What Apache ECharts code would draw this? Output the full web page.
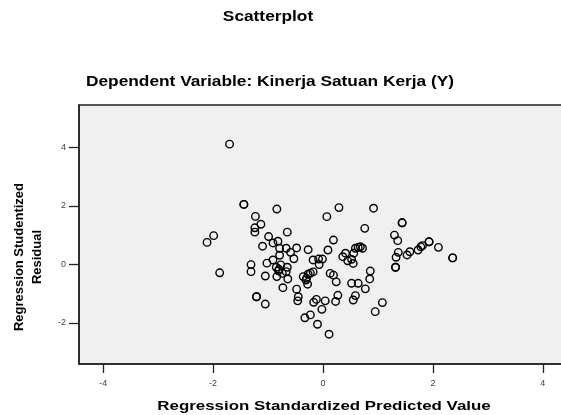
<!DOCTYPE html>
<html>
<head>
<meta charset="utf-8">
<script src="https://cdn.jsdelivr.net/npm/echarts@6/dist/echarts.min.js"></script>
<style>
  html, body { margin: 0; padding: 0; background: #fff; }
  #chart { width: 561px; height: 415px; }
</style>
</head>
<body>
<div id="chart"></div>
<script>
// Regression Standardized Predicted Value (x) and Regression Studentized Residual (y)
const predicted = [
  -1.70, -1.44, -1.44, -0.84, -1.23, -1.13, -1.24, -1.24, -0.65, 0.07,
  0.29, 0.92, 1.44, 1.44, 0.76, -1.99, -2.11, -1.88, -0.99, -1.10,
  -0.91, -0.82, -0.79, -0.67, -0.59, -0.48, -0.53, -0.27, 0.19, 0.09,
  -0.18, -0.08, -0.01, -0.07, -1.31, -1.31, -1.05, -0.91, -1.02, -0.79,
  -0.85, -0.77, -0.81, -0.65, -0.67, -0.84, -0.74, -0.64, -0.73, -0.48,
  -0.36, -0.31, -0.27, -0.18, -0.28, 0.13, 0.19, 0.24, -1.21, -1.21,
  -0.45, -0.46, -1.05, -0.12, -0.17, 0.04, -0.02, -0.33, -0.23, -0.10,
  0.11, 1.30, 1.36, 0.36, 0.41, 0.45, 0.52, 0.55, 0.56, 0.59,
  0.64, 0.68, 0.72, 0.86, 0.85, 0.77, 0.52, 0.64, 0.59, 0.55,
  0.27, 0.23, 1.08, 0.95, 1.33, 1.37, 1.32, 1.32, 1.53, 1.58,
  1.73, 1.78, 1.81, 1.93, 1.93, 2.10, 2.36, 2.36, -0.23, -0.30,
  -0.80
];
const residual = [
  4.11, 2.05, 2.05, 1.89, 1.64, 1.37, 1.25, 1.10, 1.10, 1.63,
  1.94, 1.92, 1.42, 1.42, 1.23, 0.98, 0.75, -0.29, 0.95, 0.62,
  0.73, 0.79, 0.55, 0.55, 0.41, 0.56, 0.19, 0.50, 0.83, 0.49,
  0.15, 0.18, 0.18, -0.01, -0.01, -0.25, -0.40, 0.15, 0.04, 0.31,
  -0.10, -0.02, -0.22, -0.10, -0.25, -0.42, -0.31, -0.50, -0.80, -0.85,
  -0.42, -0.54, -0.34, -0.26, -0.68, -0.31, -0.37, -0.60, -1.11, -1.11,
  -1.11, -1.25, -1.36, -1.20, -1.30, -1.25, -1.54, -1.83, -1.73, -2.05,
  -2.39, 1.00, 0.81, 0.26, 0.38, 0.12, 0.17, 0.03, 0.38, 0.55,
  0.58, 0.60, 0.55, -0.23, -0.50, -0.84, -0.65, -0.65, -1.07, -1.22,
  -1.06, -1.27, -1.31, -1.62, 0.24, 0.41, -0.10, -0.10, 0.32, 0.43,
  0.49, 0.60, 0.64, 0.77, 0.77, 0.58, 0.22, 0.22, -0.30, -0.48,
  -0.17
];
const xTicks = [-4, -2, 0, 2, 4];
const yTicks = [-2, 0, 2, 4];

const chartTitle = 'Scatterplot';
const chartSubtitle = 'Dependent Variable: Kinerja Satuan Kerja (Y)';
const xName = 'Regression Standardized Predicted Value';
const yNameLines = ['Regression Studentized', 'Residual'];

const points = predicted.map((x, i) => [x, residual[i]]);
const FONT = '"Liberation Sans", Arial, sans-serif';

const chart = echarts.init(document.getElementById('chart'), null, { renderer: 'canvas' });

function label(text, x, y, size, opts) {
  return Object.assign({
    type: 'text',
    x: x, y: y,
    silent: true,
    style: {
      text: text,
      font: 'bold ' + size + 'px ' + FONT,
      fill: '#000',
      align: 'center',
      verticalAlign: 'middle'
    }
  }, opts || {});
}

chart.setOption({
  animation: false,
  backgroundColor: '#ffffff',
  grid: {
    left: 79, top: 105, bottom: 51, right: -6,
    outerBoundsMode: 'none',
    containLabel: false,
    show: true,
    backgroundColor: '#f0f0f0',
    borderColor: '#222',
    borderWidth: 1.5
  },
  xAxis: {
    type: 'value',
    min: -4.44, max: 4.44,
    splitLine: { show: false },
    axisLine: { show: true, onZero: false, lineStyle: { color: '#222', width: 1.5 } },
    axisTick: { show: true, inside: false, length: 9, customValues: xTicks, lineStyle: { color: '#222', width: 1.3 } },
    axisLabel: { customValues: xTicks, margin: 15, fontSize: 9, color: '#444', fontFamily: FONT }
  },
  yAxis: {
    type: 'value',
    min: -3.41, max: 5.45,
    splitLine: { show: false },
    axisLine: { show: true, onZero: false, lineStyle: { color: '#222', width: 1.5 } },
    axisTick: { show: true, inside: false, length: 10, customValues: yTicks, lineStyle: { color: '#222', width: 1.3 } },
    axisLabel: { customValues: yTicks, margin: 13, fontSize: 9, color: '#444', fontFamily: FONT }
  },
  series: [{
    type: 'scatter',
    data: points,
    symbol: 'circle',
    symbolSize: 7.5,
    itemStyle: { color: 'rgba(0,0,0,0)', borderColor: '#000', borderWidth: 1.4, opacity: 1 }
  }],
  graphic: [
    label(chartTitle, 268, 17, 14, { scaleX: 1.235 }),
    label(chartSubtitle, 270, 82, 14, { scaleX: 1.235 }),
    label(xName, 324, 406, 13, { scaleX: 1.3 }),
    label(yNameLines[0], 19, 257, 13, { rotation: Math.PI / 2 }),
    label(yNameLines[1], 37, 257, 13, { rotation: Math.PI / 2 })
  ]
});
</script>
</body>
</html>
